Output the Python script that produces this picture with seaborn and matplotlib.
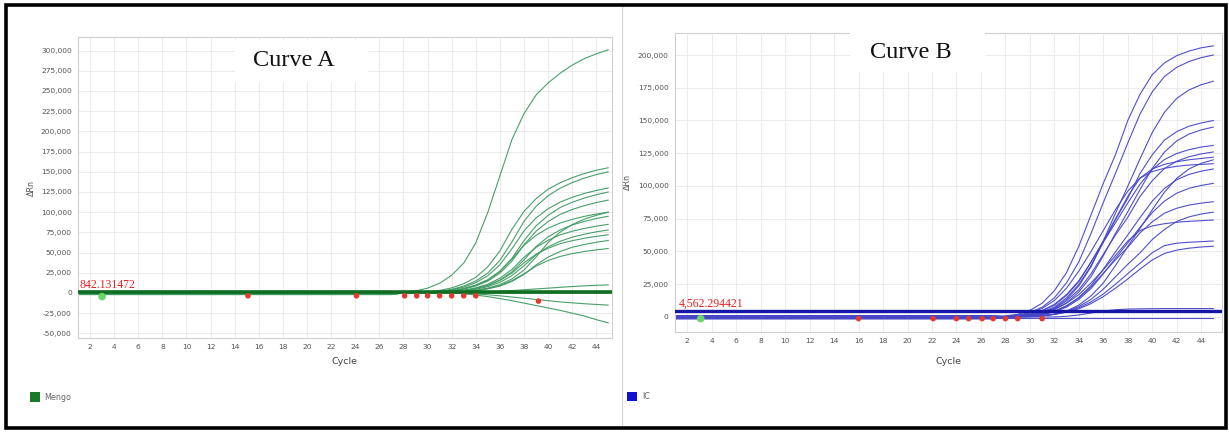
import matplotlib
matplotlib.use("Agg")
import matplotlib.pyplot as plt
import numpy as np
import pandas as pd
import seaborn as sns
from matplotlib.patches import Rectangle
from matplotlib.lines import Line2D
from matplotlib.ticker import FuncFormatter

# ---------------------------------------------------------------- data
cycles = list(range(1, 46))
tail_start = 28          # first cycle listed in each tail

# Mengo target: flat baseline level (cycles 1-27) followed by dRn for cycles 28-45
mengo_levels = [0, 1200, -800, 500, -1500, 1800, -300, 900, -1200, 300,
                -2000, 1500, -600, 0, 2000, -1000, 600, -1800]
mengo_tails = [
    [1000, 2500, 6000, 12000, 22000, 37000, 62000, 100000, 145000, 190000, 222000, 245000, 260000, 272000, 282000, 290000, 296000, 301000],
    [200, 500, 1300, 3200, 6300, 11500, 19400, 32500, 52000, 78900, 101000, 116700, 128500, 136400, 142700, 147800, 151900, 155000],
    [100, 300, 800, 2000, 4500, 8500, 14800, 24700, 40400, 63200, 88700, 107200, 120300, 129800, 136600, 142200, 146500, 150000],
    [100, 300, 700, 1700, 3900, 7300, 12800, 21400, 35000, 54800, 76800, 92900, 104200, 112500, 118400, 123200, 126900, 130000],
    [100, 100, 400, 1000, 2600, 5200, 9500, 16000, 26700, 42800, 64900, 83100, 96100, 105800, 112300, 117500, 121600, 125000],
    [0, 100, 400, 1000, 2400, 4800, 8700, 14700, 24600, 39400, 59700, 76400, 88400, 97300, 103300, 108100, 111900, 115000],
    [100, 200, 500, 1300, 3000, 5700, 9900, 16400, 26900, 42100, 59100, 71400, 80200, 86600, 91100, 94800, 97700, 100000],
    [0, 100, 200, 500, 1300, 2900, 5500, 9600, 16000, 26200, 41000, 57500, 69500, 78000, 84200, 88600, 92200, 95000],
    [0, 100, 300, 700, 1800, 3500, 6400, 10900, 18200, 29100, 44200, 56500, 65300, 72000, 76400, 79900, 82700, 85000],
    [0, 0, 200, 400, 1100, 2400, 4500, 7900, 13100, 21500, 33700, 47200, 57100, 64000, 69100, 72700, 75700, 78000],
    [0, 100, 200, 600, 1500, 3000, 5500, 9200, 15400, 24700, 37400, 47900, 55400, 61000, 64700, 67700, 70100, 72000],
    [0, 0, 100, 200, 600, 1400, 2800, 5100, 8500, 14300, 22900, 34700, 44400, 51400, 56600, 60000, 62800, 65000],
    [0, 0, 100, 300, 800, 1700, 3200, 5600, 9300, 15200, 23700, 33300, 40200, 45200, 48800, 51300, 53400, 55000],
    [0, 0, 100, 200, 500, 1400, 3100, 6000, 10400, 17400, 28400, 44500, 62400, 75400, 84600, 91400, 96100, 100000],
    [0, 0, 0, 0, 0, 0, 500, 1200, 2000, 3000, 4000, 5000, 6000, 7000, 8000, 8800, 9500, 10000],
    [0, 0, 0, 0, 0, 0, 0, 0, 0, 0, 0, 0, 0, 0, 0, 0, 0, 0],
    [0, 0, 0, 0, 0, -500, -1200, -2200, -3500, -5000, -6500, -8000, -9500, -11000, -12200, -13300, -14200, -15000],
    [0, 0, 0, 0, 0, -1000, -2500, -4500, -7000, -9500, -12500, -15500, -18500, -21500, -25000, -28500, -33000, -37000],
]

# IC target: same layout
ic_levels = [0, -800, 500, -1200, 300, -500, 800, -1500, 200, -300,
             600, -1000, 0, 400, -700, 1000, -1200, 0, -800]
ic_tails = [
    [800, 2000, 5000, 10500, 20000, 34000, 54000, 78000, 102000, 124000, 150000, 170000, 185000, 194000, 199500, 203000, 205500, 207000],
    [400, 1400, 3400, 7400, 14600, 26100, 42100, 63800, 87300, 109700, 132800, 154900, 171900, 183600, 190600, 195000, 198000, 200000],
    [200, 400, 1300, 3100, 6700, 13300, 23700, 38300, 58000, 79300, 99800, 120700, 140800, 156300, 166900, 173300, 177300, 180000],
    [200, 600, 1500, 3600, 7600, 14600, 24800, 39300, 56900, 74400, 90600, 109500, 123800, 135000, 141500, 145600, 148100, 150000],
    [100, 300, 1000, 2500, 5400, 10700, 19100, 30800, 46700, 63900, 80400, 97200, 113400, 125900, 134400, 139600, 142800, 145000],
    [300, 900, 2200, 4900, 9600, 17100, 27600, 41800, 57200, 71900, 87000, 101400, 112600, 120200, 124800, 127700, 129700, 131000],
    [200, 500, 1300, 3000, 6300, 12300, 20800, 33000, 47800, 62600, 76100, 92000, 104000, 113400, 118900, 122300, 124500, 126000],
    [300, 800, 2000, 4500, 9000, 16500, 27000, 42000, 58000, 75000, 92000, 106000, 113000, 116500, 118500, 120000, 121000, 122000],
    [500, 1200, 3000, 6500, 12500, 22000, 35000, 50000, 66000, 82000, 96000, 106000, 111000, 113500, 115000, 116000, 116500, 117000],
    [100, 200, 800, 1900, 4200, 8400, 14900, 24000, 36400, 49800, 62600, 75800, 88400, 98100, 104800, 108800, 111300, 113000],
    [100, 200, 700, 1700, 3800, 7500, 13400, 21700, 32900, 44900, 56500, 68400, 79700, 88500, 94500, 98200, 100400, 102000],
    [100, 400, 900, 2100, 4400, 8600, 14500, 23000, 33400, 43700, 53200, 64200, 72600, 79200, 83000, 85400, 86900, 88000],
    [0, 100, 300, 800, 2000, 4100, 7900, 13400, 21200, 30700, 40200, 48900, 59100, 66800, 72900, 76400, 78600, 80000],
    [300, 700, 1500, 3200, 6000, 10500, 17000, 26000, 36000, 47000, 58000, 66000, 69500, 71200, 72300, 73000, 73500, 74000],
    [0, 200, 500, 1100, 2200, 4000, 7000, 11500, 17500, 25000, 33000, 41000, 49000, 54500, 56300, 57000, 57500, 58000],
    [0, 100, 400, 900, 1900, 3600, 6300, 10200, 15500, 22000, 29000, 36500, 43500, 48500, 51000, 52500, 53400, 54000],
    [0, 100, 200, 900, 2100, 4600, 9000, 16100, 25900, 39300, 53700, 67600, 81800, 95300, 105800, 113000, 117300, 120000],
    [0, 0, 0, 0, 0, 500, 1500, 3000, 4500, 5500, 6000, 6200, 6300, 6400, 6400, 6400, 6400, 6400],
    [-800, -800, -800, -800, -800, -800, -800, -800, -800, -800, -800, -800, -800, -800, -800, -800, -800, -800],
]

mengo_threshold = 842.131472
ic_threshold = 4562.294421
mengo_ct_cycles = [15.1, 24.1, 28.1, 29.1, 30.0, 31.0, 32.0, 33.0, 34.0, 39.2]
mengo_ct_values = [-3500, -3500, -3500, -3500, -3500, -3500, -3500, -3500, -3500, -10000]
ic_ct_cycles = [16.0, 22.1, 24.0, 25.0, 26.1, 27.0, 28.0, 29.0, 31.0]
ic_ct_values = [-1300, -1300, -1300, -1300, -1300, -1300, -1300, -1300, -1300]
mengo_start = ([3.0], [-4500])
ic_start = ([3.1], [-1300])

x_ticks = list(range(2, 46, 2))
mengo_y_ticks = list(range(-50000, 300001, 25000))
ic_y_ticks = list(range(0, 200001, 25000))


def curves_frame(levels, tails):
    rows = []
    for k, (lvl, tail) in enumerate(zip(levels, tails)):
        vals = [lvl] * (tail_start - 1) + list(tail)
        for c, v in zip(cycles, vals):
            rows.append((k, c, v))
    return pd.DataFrame(rows, columns=["curve", "cycle", "dRn"])


# ---------------------------------------------------------------- figure
sns.set_style("white")
plt.rcParams["font.family"] = ["DejaVu Sans"]

W, H = 1229, 432
fig = plt.figure(figsize=(W / 100, H / 100), dpi=100)
fig.patch.set_facecolor("white")


def px_axes(x0, y0, x1, y1):
    return fig.add_axes([x0 / W, 1 - y1 / H, (x1 - x0) / W, (y1 - y0) / H])


axA = px_axes(78, 37, 612, 338)
axB = px_axes(675, 33, 1222, 332)

tick_fmt = FuncFormatter(lambda v, p: f"{v:,.0f}")


def style_axes(ax, yticks, ylim, xlim):
    ax.set_xlim(*xlim)
    ax.set_ylim(*ylim)
    ax.set_xticks(x_ticks)
    ax.set_yticks(yticks)
    ax.yaxis.set_major_formatter(tick_fmt)
    ax.grid(True, color="#e8e8e8", lw=0.6)
    ax.set_axisbelow(True)
    for s in ax.spines.values():
        s.set_color("#cfcfcf")
        s.set_linewidth(0.8)
    ax.tick_params(axis="both", labelsize=5.4, colors="#cfcfcf",
                   labelcolor="#555555", length=2, width=0.6, pad=2.5)
    ax.set_xlabel("Cycle", fontsize=6.8, color="#444444")
    ax.set_ylabel("ΔRn", fontsize=5.8, color="#555555")


dfA = curves_frame(mengo_levels, mengo_tails)
sns.lineplot(data=dfA, x="cycle", y="dRn", units="curve", estimator=None,
             color="#3f9a62", lw=0.8, alpha=0.95, ax=axA, legend=False)
axA.axhline(mengo_threshold, color="#0f6e22", lw=2.6, zorder=3)
sns.scatterplot(x=mengo_ct_cycles, y=mengo_ct_values, color="#e33a30",
                s=16, edgecolor="none", ax=axA, zorder=4)
sns.scatterplot(x=mengo_start[0], y=mengo_start[1], color="#6ad66a",
                s=30, edgecolor="none", ax=axA, zorder=4)
style_axes(axA, mengo_y_ticks, (-55700, 316800), (1.0, 45.3))
axA.xaxis.set_label_coords(0.5, -0.063)
axA.yaxis.set_label_coords(-0.079, 0.5)
axA.text(1.15, mengo_threshold + 1300, "842.131472", color="#e02020",
         fontsize=8.5, family="Liberation Serif", va="bottom", ha="left", zorder=5)

dfB = curves_frame(ic_levels, ic_tails)
sns.lineplot(data=dfB, x="cycle", y="dRn", units="curve", estimator=None,
             color="#4646c8", lw=0.8, alpha=0.95, ax=axB, legend=False)
axB.axhline(ic_threshold, color="#1616a6", lw=2.4, zorder=3)
sns.scatterplot(x=ic_ct_cycles, y=ic_ct_values, color="#e33a30",
                s=16, edgecolor="none", ax=axB, zorder=4)
sns.scatterplot(x=ic_start[0], y=ic_start[1], color="#6ad66a",
                s=30, edgecolor="none", ax=axB, zorder=4)
style_axes(axB, ic_y_ticks, (-11500, 216800), (1.0, 45.7))
axB.xaxis.set_label_coords(0.5, -0.084)
axB.yaxis.set_label_coords(-0.079, 0.5)
axB.text(1.3, ic_threshold + 600, "4,562.294421", color="#e02020",
         fontsize=8.5, family="Liberation Serif", va="bottom", ha="left", zorder=5)


# ---------------------------------------------------------------- titles, legends, frame
def fig_rect(x0, y0, x1, y1, **kw):
    r = Rectangle((x0 / W, 1 - y1 / H), (x1 - x0) / W, (y1 - y0) / H,
                  transform=fig.transFigure, **kw)
    fig.patches.append(r)
    return r


fig_rect(235, 40, 368, 82, fc="white", ec="none", zorder=5)
fig_rect(850, 28, 985, 72, fc="white", ec="none", zorder=5)
fig.text(294 / W, 1 - 61 / H, "Curve A", ha="center", va="center",
         fontsize=17.5, family="Liberation Serif", color="#111111", zorder=6)
fig.text(911 / W, 1 - 52 / H, "Curve B", ha="center", va="center",
         fontsize=17.5, family="Liberation Serif", color="#111111", zorder=6)

fig_rect(30, 392, 40, 402, fc="#1a7a2a", ec="none", zorder=5)
fig.text(44 / W, 1 - 397.5 / H, "Mengo", fontsize=5.8, color="#666666",
         va="center", ha="left")
fig_rect(627, 392, 637, 401, fc="#1010d0", ec="none", zorder=5)
fig.text(642 / W, 1 - 396.5 / H, "IC", fontsize=5.8, color="#666666",
         va="center", ha="left")

fig.lines.append(Line2D([621.5 / W, 621.5 / W], [1 - 428 / H, 1 - 6 / H],
                        transform=fig.transFigure, color="#d8d8d8", lw=0.8))
fig_rect(5.5, 4.5, 1225.5, 428, fill=False, ec="black", lw=2.6, zorder=10)

fig.savefig("out.png", dpi=100, facecolor="white")
